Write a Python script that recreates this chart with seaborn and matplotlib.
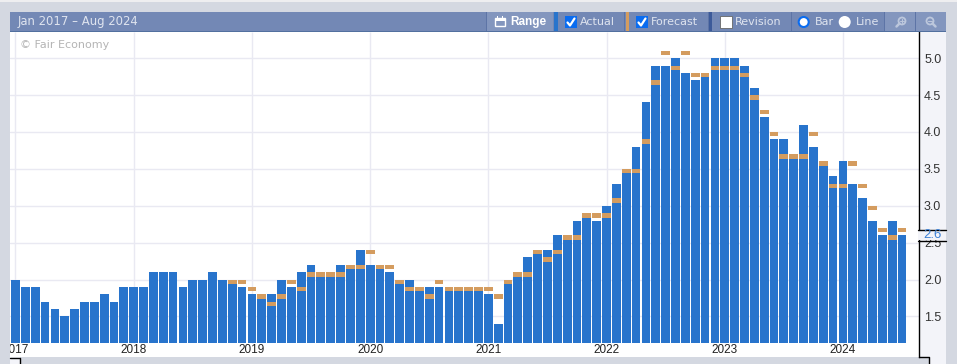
import pandas as pd
import numpy as np
import seaborn as sns
import matplotlib.pyplot as plt
from matplotlib.patches import Rectangle, Circle

# Values, one list per year
actual_2017 = [2.0, 1.9, 1.9, 1.7, 1.6, 1.5, 1.6, 1.7, 1.7, 1.8, 1.7, 1.9]
actual_2018 = [1.9, 1.9, 2.1, 2.1, 2.1, 1.9, 2.0, 2.0, 2.1, 2.0, 2.0, 1.9]
actual_2019 = [1.8, 1.8, 1.8, 2.0, 1.9, 2.1, 2.2, 2.1, 2.1, 2.2, 2.2, 2.4]
actual_2020 = [2.2, 2.2, 2.1, 2.0, 2.0, 1.9, 1.9, 1.9, 1.9, 1.9, 1.9, 1.9]
actual_2021 = [1.8, 1.4, 2.0, 2.1, 2.3, 2.4, 2.4, 2.6, 2.6, 2.8, 2.9, 2.8]
actual_2022 = [3.0, 3.3, 3.5, 3.8, 4.4, 4.9, 4.9, 5.0, 4.8, 4.7, 4.8, 5.0]
actual_2023 = [5.0, 5.0, 4.9, 4.6, 4.2, 3.9, 3.9, 3.7, 4.1, 3.8, 3.6, 3.4]
actual_2024 = [3.6, 3.3, 3.1, 2.8, 2.6, 2.8, 2.6]

# Forecast marks only start in Nov 2018
forecast_2017 = [np.nan] * 12
forecast_2018 = [np.nan] * 10 + [2.0, 2.0]
forecast_2019 = [1.9, 1.8, 1.7, 1.8, 2.0, 1.9, 2.1, 2.1, 2.1, 2.1, 2.2, 2.2]
forecast_2020 = [2.4, 2.2, 2.2, 2.0, 1.9, 1.9, 1.8, 2.0, 1.9, 1.9, 1.9, 1.9]
forecast_2021 = [1.9, 1.8, 2.0, 2.1, 2.1, 2.4, 2.3, 2.4, 2.6, 2.6, 2.9, 2.9]
forecast_2022 = [2.9, 3.1, 3.5, 3.5, 3.9, 4.7, 5.1, 4.9, 5.1, 4.8, 4.8, 4.9]
forecast_2023 = [4.9, 4.9, 4.8, 4.5, 4.3, 4.0, 3.7, 3.7, 3.7, 4.0, 3.6, 3.3]
forecast_2024 = [3.3, 3.6, 3.3, 3.0, 2.7, 2.6, 2.7]

years = [2017, 2018, 2019, 2020, 2021, 2022, 2023, 2024]
y_ticks = [1.5, 2.0, 2.5, 3.0, 3.5, 4.0, 4.5, 5.0]
last_value = '2.6'

actual = (actual_2017 + actual_2018 + actual_2019 + actual_2020
          + actual_2021 + actual_2022 + actual_2023 + actual_2024)
forecast = (forecast_2017 + forecast_2018 + forecast_2019 + forecast_2020
            + forecast_2021 + forecast_2022 + forecast_2023 + forecast_2024)

df = pd.DataFrame({
    'month': pd.date_range('2017-01-01', periods=len(actual), freq='MS').strftime('%Y-%m'),
    'actual': actual,
    'forecast': forecast,
})

W, H = 957, 364
GREY = '#d4d8e1'
PANEL = '#f3f4f9'
HEADER = '#7388b5'
HEADER_LT = '#8396be'
BLUE = '#2874cc'
TAN = '#d49c5f'
GRID = '#e9e9f2'
HEAD_TXT = '#dfe4ef'
ICON = '#bcc7dc'

sns.set_style('white')
plt.rcParams['font.family'] = ['Liberation Sans', 'DejaVu Sans']

fig = plt.figure(figsize=(W / 100, H / 100), dpi=100, facecolor=GREY)


def px_axes(zorder):
    # full figure axes working in pixels, for the page chrome
    a = fig.add_axes([0, 0, 1, 1], zorder=zorder)
    a.set_xlim(0, W)
    a.set_ylim(H, 0)
    a.axis('off')
    a.patch.set_alpha(0)
    return a


def rect(a, x0, y0, x1, y1, color, **kw):
    a.add_patch(Rectangle((x0, y0), x1 - x0, y1 - y0, facecolor=color, edgecolor='none', **kw))


back = px_axes(0)
rect(back, 0, 0, W, 2, '#eeeef0')
rect(back, 929, 32, 946, H, PANEL)
rect(back, 918, 32, 929, 357, PANEL)

# Main plot
left, right, top, bottom = 10, 918.5, 32, 357
ax = fig.add_axes([left / W, 1 - bottom / H, (right - left) / W, (bottom - top) / H], zorder=1)

sns.barplot(data=df, x='month', y='actual', color=BLUE, saturation=1, width=0.89,
            linewidth=0, ax=ax, zorder=3)

# bars sit on a baseline above the year labels
base = 1.139
for p in ax.patches:
    h = p.get_height()
    p.set_y(base)
    p.set_height(h - base)

# Forecast dashes hang from their value
xs = np.arange(len(df))
dash = 0.06
ax.bar(xs, dash, bottom=df['forecast'] - dash, width=0.89, color=TAN, linewidth=0, zorder=4)

ax.set_xlim(-0.558, 91.67)
ax.set_ylim(0.95, 5.355)
ax.set_xlabel('')
ax.set_ylabel('')
ax.set_xticks([])

for v in y_ticks:
    ax.axhline(v, color=GRID, lw=1, zorder=1)
for i, yr in enumerate(years):
    ax.vlines(i * 12, base, 5.355, color=GRID, lw=1, zorder=1)
    ax.text(i * 12, 1.045, str(yr), ha='center', va='center', fontsize=8.5,
            color='#222222', clip_on=True, zorder=5)

ax.yaxis.tick_right()
ax.set_yticks(y_ticks)
ax.set_yticklabels([f'{v:.1f}' for v in y_ticks], fontsize=9, color='#333333')
ax.tick_params(axis='y', length=0, pad=4)

for name in ['top', 'left', 'bottom']:
    ax.spines[name].set_visible(False)
ax.spines['right'].set_visible(True)
ax.spines['right'].set_color('black')
ax.spines['right'].set_linewidth(1)

ax.text(20, 45, '© Fair Economy', transform=back.transData, fontsize=8, color='#b4b4b4',
        va='center', zorder=6, family='DejaVu Sans')

# Header bar and the rest of the chrome
front = px_axes(2)
rect(front, 10, 12, 946, 32, HEADER)
rect(front, 10, 31, 946, 32, '#52709f')
rect(front, 486, 12, 553, 31, HEADER_LT)
rect(front, 885, 12, 946, 31, HEADER_LT)
rect(front, 554, 12, 558, 31, BLUE)
rect(front, 626, 12, 629, 31, TAN)
rect(front, 709, 12, 712, 31, '#3c5a99')
for x in [486, 624, 708, 791, 884, 915]:
    rect(front, x, 12, x + 1, 31, '#5d74a6')

head_text = dict(va='center', fontsize=8, color=HEAD_TXT, family='DejaVu Sans')
front.text(18, 22, 'Jan 2017 – Aug 2024', va='center', fontsize=8.4, color=HEAD_TXT, family='DejaVu Sans')
front.text(510, 22, 'Range', va='center', fontsize=8.5, color='white', fontweight='bold')
front.text(580, 22, 'Actual', **head_text)
front.text(651, 22, 'Forecast', **head_text)
front.text(735, 22, 'Revision', **head_text)
front.text(815, 22, 'Bar', **head_text)
front.text(856, 22, 'Line', **head_text)

# calendar icon
front.add_patch(Rectangle((495, 18), 10, 8, facecolor='none', edgecolor='white', lw=1))
rect(front, 495, 19, 505, 21, 'white')
rect(front, 497, 16, 498, 19, 'white')
rect(front, 502, 16, 503, 19, 'white')

# checkboxes
for x in [565, 636]:
    front.add_patch(Rectangle((x, 16), 12, 12, facecolor='#0a6cf0', edgecolor='none'))
    front.plot([x + 2.5, x + 5, x + 9.5], [22.5, 25.5, 18.5], color='white', lw=1.6)
front.add_patch(Rectangle((720, 16), 12, 12, facecolor='white', edgecolor='#666666', lw=0.6))

# radio buttons
front.add_patch(Circle((803.7, 22), 5, facecolor='white', edgecolor='#0a6cf0', lw=1.5))
front.add_patch(Circle((844.7, 22), 6, facecolor='white', edgecolor='none'))

# zoom icons, handle down-left on the first and down-right on the second
front.add_patch(Circle((902, 21), 3.5, facecolor='none', edgecolor=ICON, lw=1.3))
front.plot([899.5, 896.5], [23.5, 26.5], color=ICON, lw=1.8)
front.plot([900.3, 903.7], [21, 21], color=ICON, lw=0.8)
front.plot([902, 902], [19.3, 22.7], color=ICON, lw=0.8)
front.add_patch(Circle((930, 21), 3.5, facecolor='none', edgecolor=ICON, lw=1.3))
front.plot([932.5, 935.5], [23.5, 26.5], color=ICON, lw=1.8)
front.plot([928.3, 931.7], [21, 21], color=ICON, lw=0.8)

# Last value tab on the axis
rect(front, 917.8, 229.5, 946, 240, PANEL)
front.plot([918, 946], [229.5, 229.5], color='black', lw=1)
front.plot([918, 946], [240.5, 240.5], color='black', lw=1)
front.text(923, 235, last_value, va='center', fontsize=9.5, color='#3a7fd5')

# notch below the axis and the range handle at the left
front.plot([918.5, 929, 929], [357, 357, H], color='black', lw=1)
rect(front, 10, 357, 20, H, PANEL)
front.plot([10, 20, 20], [357.5, 357.5, H], color='black', lw=1)

plt.savefig('out.png', dpi=100, facecolor=GREY)
plt.close()
